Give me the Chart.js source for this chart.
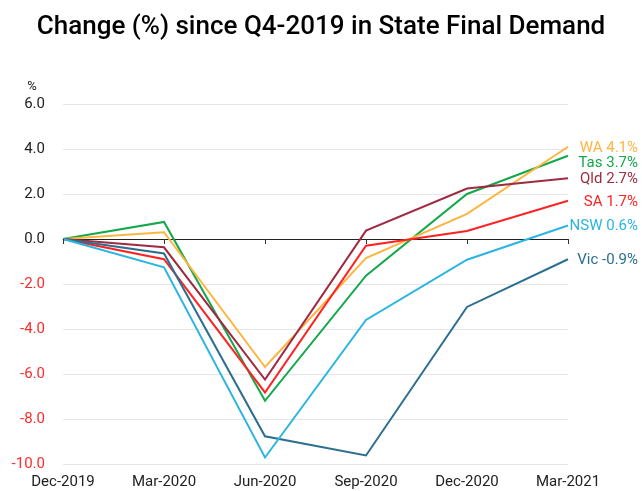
<!DOCTYPE html>
<html>
<head>
<meta charset="utf-8">
<script src="https://cdn.jsdelivr.net/npm/chart.js@4.4.0/dist/chart.umd.min.js"></script>
<style>
  html, body { margin: 0; padding: 0; background: #fff; }
  #wrap { width: 642px; height: 491px; }
</style>
</head>
<body>
<div id="wrap"><canvas id="chart" width="642" height="491"></canvas></div>
<script>
// quarters
const quarters = ['Dec-2019', 'Mar-2020', 'Jun-2020', 'Sep-2020', 'Dec-2020', 'Mar-2021'];

// change (%) since Q4-2019, per state
const nsw = [0, -1.26, -9.71, -3.6, -0.92, 0.6];
const vic = [0, -0.64, -8.77, -9.62, -3.02, -0.9];
const qld = [0, -0.37, -6.25, 0.37, 2.24, 2.7];
const sa  = [0, -0.9, -6.82, -0.3, 0.36, 1.7];
const wa  = [0, 0.3, -5.69, -0.85, 1.12, 4.1];
const tas = [0, 0.76, -7.19, -1.63, 2.0, 3.7];

const stateNames = ['NSW', 'Vic', 'Qld', 'SA', 'WA', 'Tas'];
const stateColours = ['#2bb5e0', '#2b6e90', '#9f2a42', '#ff2222', '#fdb540', '#14a84b'];
const stateValues = [nsw, vic, qld, sa, wa, tas];

const titleText = 'Change (%) since Q4-2019 in State Final Demand';

const datasets = stateNames.map((name, i) => ({
  label: name,
  data: stateValues[i],
  borderColor: stateColours[i],
  backgroundColor: stateColours[i],
  borderWidth: 2,
  pointRadius: 0,
  tension: 0,
  fill: false
}));

// title, end labels, zero line ticks and the "%" unit
const extras = {
  id: 'extras',
  afterDatasetsDraw(chart) {
    const ctx = chart.ctx;
    const x = chart.scales.x, y = chart.scales.y;
    const zero = y.getPixelForValue(0);

    ctx.save();
    // title, centred on the whole canvas
    ctx.fillStyle = '#000';
    ctx.font = '500 26px Roboto';
    ctx.textAlign = 'center';
    ctx.textBaseline = 'middle';
    ctx.fillText(titleText, chart.width / 2, 27);

    // ticks on the zero line
    ctx.strokeStyle = '#333';
    ctx.lineWidth = 1;
    quarters.forEach((q, i) => {
      const px = Math.round(x.getPixelForValue(i)) + 0.5;
      ctx.beginPath();
      ctx.moveTo(px, zero);
      ctx.lineTo(px, zero + 5);
      ctx.stroke();
    });

    // labels at the last point, pushed down where they collide
    const last = quarters.length - 1;
    const items = chart.data.datasets.map(ds => ({
      text: ds.label + ' ' + ds.data[last].toFixed(1) + '%',
      colour: ds.borderColor,
      y: y.getPixelForValue(ds.data[last]) + 1
    })).sort((a, b) => a.y - b.y);
    const gap = 15.5;
    for (let i = 1; i < items.length; i++) {
      if (items[i].y - items[i - 1].y < gap) items[i].y = items[i - 1].y + gap;
    }
    ctx.font = '15px Roboto';
    ctx.textAlign = 'right';
    items.forEach(it => {
      ctx.fillStyle = it.colour;
      ctx.fillText(it.text, 638, it.y);
    });

    // unit
    ctx.fillStyle = '#222';
    ctx.font = '13px Roboto';
    ctx.textAlign = 'center';
    ctx.fillText('%', 32, y.getPixelForValue(6) - 17);
    ctx.restore();
  }
};

new Chart(document.getElementById('chart'), {
  type: 'line',
  data: { labels: quarters, datasets: datasets },
  plugins: [extras],
  options: {
    responsive: false,
    animation: false,
    layout: { padding: { left: 0, right: 74, top: 104, bottom: 0 } },
    plugins: {
      legend: { display: false },
      tooltip: { enabled: false },
      title: { display: false }
    },
    scales: {
      x: {
        offset: false,
        afterFit(scale) { scale.height = 27; },
        grid: { display: false, drawTicks: false },
        border: { display: false },
        ticks: {
          color: '#222',
          font: { family: 'Roboto', size: 15 },
          padding: 9,
          maxRotation: 0,
          autoSkip: false
        }
      },
      y: {
        min: -10,
        max: 6,
        afterFit(scale) { scale.width = 63; },
        grid: {
          drawTicks: false,
          color: ctx => ctx.tick && ctx.tick.value === 0 ? '#222' : '#e6e6e6',
          lineWidth: 1
        },
        border: { display: false },
        ticks: {
          stepSize: 2,
          padding: 18,
          font: { family: 'Roboto', size: 15 },
          color: ctx => ctx.tick && ctx.tick.value < 0 ? '#ff2a2a' : '#222',
          callback: v => v.toFixed(1)
        }
      }
    }
  }
});
</script>
</body>
</html>
